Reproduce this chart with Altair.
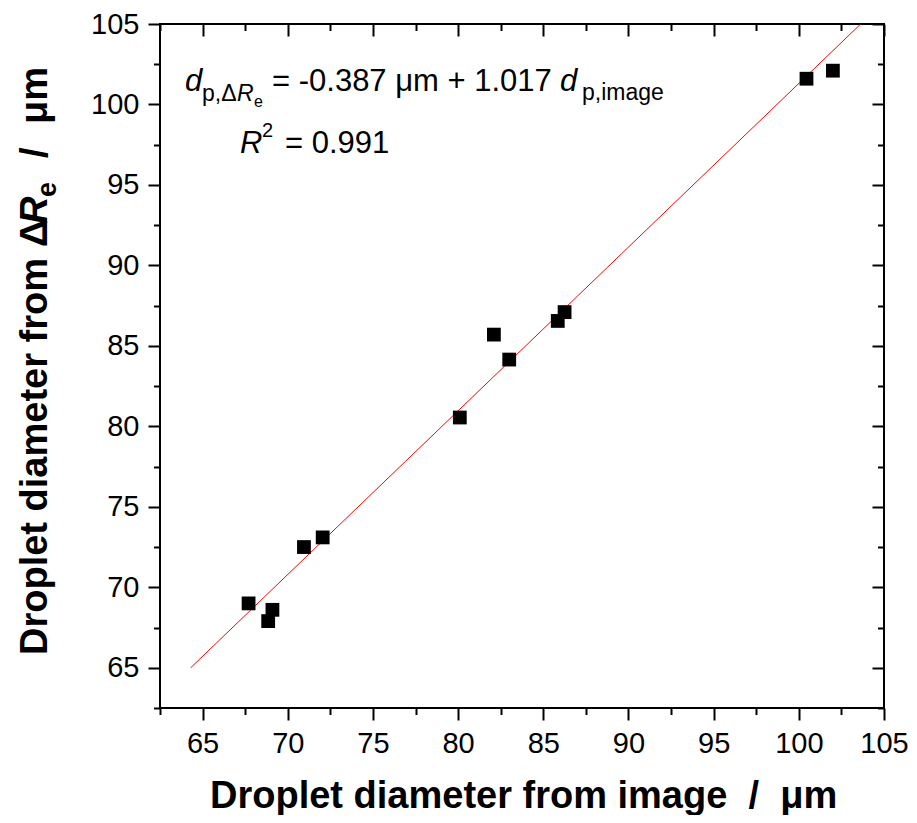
import altair as alt
import pandas as pd

# ---- data ----
x_image = [67.7, 68.85, 69.1, 70.95, 72.05, 80.1, 82.1, 83.0, 85.85, 86.25, 100.45, 102.0]
y_delta = [69.0, 67.9, 68.6, 72.5, 73.1, 80.55, 85.7, 84.15, 86.55, 87.1, 101.6, 102.1]
fit_x = [64.3, 103.63]
fit_y = [65.0, 105.0]
major_ticks = [65, 70, 75, 80, 85, 90, 95, 100, 105]
minor_ticks = [62.5, 67.5, 72.5, 77.5, 82.5, 87.5, 92.5, 97.5, 102.5]
domain = [62.5, 105]

# ---- layout ----
W, H = 724, 684
OX, OY = 160, 24          # page position of plot origin
FONT = "Liberation Sans"

pts = pd.DataFrame({"x": x_image, "y": y_delta})
fit = pd.DataFrame({"x": fit_x, "y": fit_y})
one = pd.DataFrame({"a": [0]})

xs = alt.Scale(domain=domain, nice=False, zero=False)
ys = alt.Scale(domain=domain, nice=False, zero=False)


def ax(orient, values, size, labels, offset=0):
    kw = dict(orient=orient, values=values, tickSize=size, tickWidth=2,
              tickColor="black", domain=False, grid=False, title="",
              labels=labels, ticks=True)
    if offset:
        kw["offset"] = offset
    if labels:
        kw.update(labelFont=FONT, labelFontSize=29, labelColor="black",
                  labelPadding=9, labelOverlap=False, labelFlush=False)
    return alt.Axis(**kw)


def axis_layer(xaxis, yaxis):
    return alt.Chart(pts).mark_point(opacity=0).encode(
        x=alt.X("x:Q", scale=xs, axis=xaxis),
        y=alt.Y("y:Q", scale=ys, axis=yaxis),
    )


axes_layers = [
    axis_layer(ax("bottom", major_ticks, 12, True), ax("left", major_ticks, 12, True)),
    axis_layer(ax("bottom", minor_ticks, 6.5, False), ax("left", minor_ticks, 6.5, False)),
    axis_layer(ax("top", major_ticks, 12, False, -12), ax("right", major_ticks, 12, False, -12)),
    axis_layer(ax("top", minor_ticks, 6.5, False, -6.5), ax("right", minor_ticks, 6.5, False, -6.5)),
]

line = alt.Chart(fit).mark_line(color="#ff0000", strokeWidth=1).encode(
    x=alt.X("x:Q", scale=xs, axis=None),
    y=alt.Y("y:Q", scale=ys, axis=None),
)

points = alt.Chart(pts).mark_square(size=190, color="black", opacity=1, filled=True).encode(
    x=alt.X("x:Q", scale=xs, axis=None),
    y=alt.Y("y:Q", scale=ys, axis=None),
)

# text pieces: (text, page x, page y, size, style, weight, angle)
A, S, SS = 31, 23, 16
T = 38
pieces = [
    ("d", 185, 91, A, "italic", "normal", 0),
    ("p,Δ", 202, 101, S, "normal", "normal", 0),
    ("R", 237, 101, S, "italic", "normal", 0),
    ("e", 254, 107, SS, "normal", "normal", 0),
    ("= -0.387 μm + 1.017", 272, 91, A, "normal", "normal", 0),
    ("d", 560, 91, A, "italic", "normal", 0),
    ("p,image", 582, 100, S, "normal", "normal", 0),
    ("R", 240, 153, A, "italic", "normal", 0),
    ("2", 262, 137, 20, "normal", "normal", 0),
    ("= 0.991", 285, 153, A, "normal", "normal", 0),
    # x title
    ("Droplet diameter from image\u00a0\u00a0/\u00a0\u00a0μm", 210, 808, T, "normal", "bold", 0),
    # y title (rotated)
    ("Droplet diameter from", 47, 655, T, "normal", "bold", 270),
    ("Δ", 47, 247, T, "normal", "bold", 270),
    ("R", 47, 224, T, "italic", "bold", 270),
    ("e", 56, 197, 27, "normal", "bold", 270),
    ("/", 47, 158, T, "normal", "bold", 270),
    ("μm", 47, 124, T, "normal", "bold", 270),
]

texts = []
for t, px, py, size, style, weight, angle in pieces:
    texts.append(
        alt.Chart(one).mark_text(
            text=t, font=FONT, fontSize=size, fontStyle=style, fontWeight=weight,
            angle=angle, align="left", baseline="alphabetic", color="black",
        ).encode(x=alt.value(px - OX), y=alt.value(py - OY))
    )

chart = alt.layer(*axes_layers, line, points, *texts).resolve_axis(
    x="independent", y="independent"
).properties(
    width=W, height=H,
    autosize=alt.AutoSizeParams(type="none"),
    padding={"left": OX - 8, "top": OY - 8, "right": 901 - (OX - 8) - W, "bottom": 107},
    background="white",
).configure_view(stroke="black", strokeWidth=2)

chart.save("out.html", embed_options={"renderer": "svg", "actions": False})
